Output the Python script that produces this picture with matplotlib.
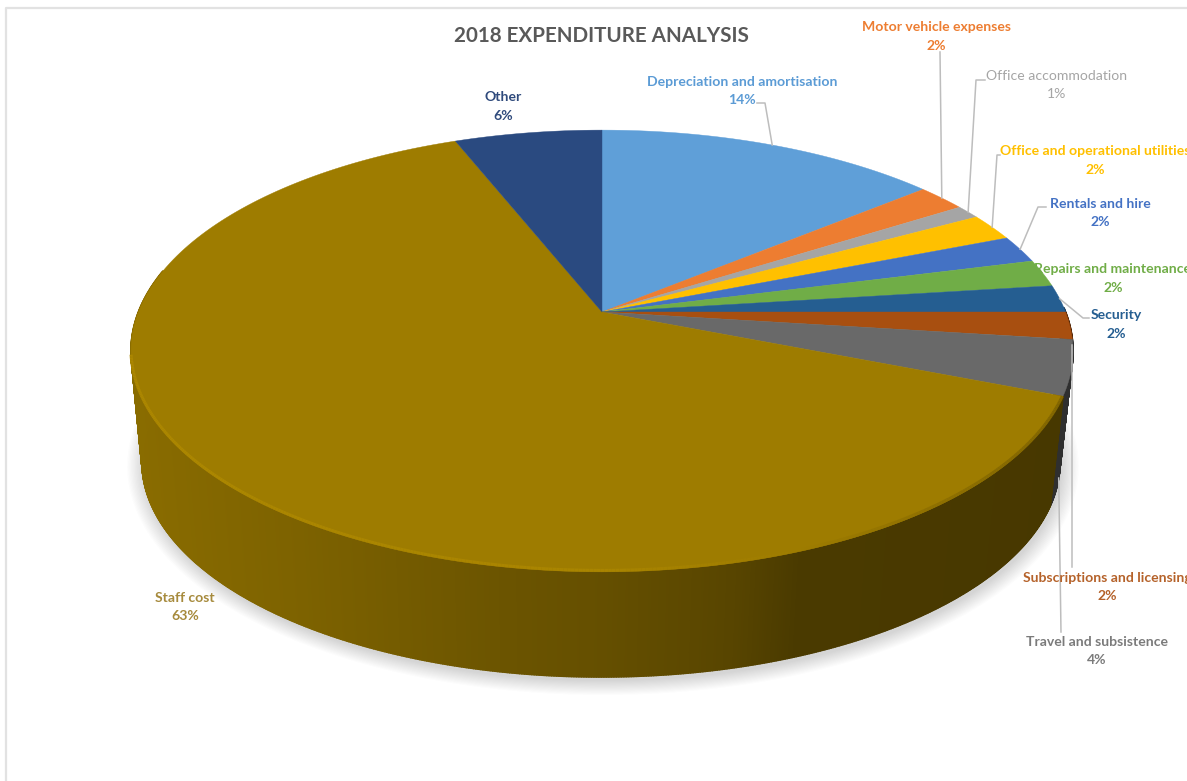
import numpy as np
import matplotlib
matplotlib.use('Agg')
import matplotlib.pyplot as plt
from matplotlib.collections import PolyCollection, LineCollection
from matplotlib.colors import to_rgb

categories = ['Depreciation and amortisation', 'Motor vehicle expenses', 'Office accommodation',
              'Office and operational utilities', 'Rentals and hire', 'Repairs and maintenance',
              'Security', 'Subscriptions and licensing', 'Travel and subsistence', 'Staff cost', 'Other']
values = [14, 2, 1, 2, 2, 2, 2, 2, 4, 63, 6]
colors = ['#5f9fd8', '#ed7d31', '#a5a5a5', '#ffc000', '#4472c4', '#70ad47',
          '#255e91', '#a84f10', '#696969', '#9e7c00', '#2a4a80']
label_colors = ['#5b9bd5', '#ed7d31', '#a5a5a5', '#ffc000', '#4472c4', '#70ad47',
                '#255e91', '#b5622a', '#7b7b7b', '#a68a3c', '#2f4a7c']

# label centre (x, y of the first line) in pixels
label_pos = [(742, 82), (936, 27), (1057, 76), (1095, 151), (1100, 204), (1113, 269),
             (1116, 315), (1107, 578), (1097, 642), (185, 598), (503, 97)]
# leader line bends after leaving the slice, None where there is no leader
leaders = [[(765, 103), (757, 103)], [(940, 52)], [(976, 80), (985, 80)], [(997, 155), (1000, 155)],
           [(1038, 207), (1046, 207)], None, [(1083, 318), (1089, 318)], [(1072, 345), (1072, 567)],
           [(1061, 632)], None, None]

# perspective of the disc
k = 0.1765
top_plane = (602, 312, 463.6, 214)
bottom_plane = (601, 423.8, 451.8, 208.5)
# side wall shading against screen x
shade_x = [130, 300, 500, 600, 700, 740, 800, 1072]
shade_f = [0.87, 0.79, 0.68, 0.64, 0.58, 0.55, 0.47, 0.45]


def project(t, plane):
    cx, cy, a, h = plane
    w = 1 + k * np.sin(t)
    return np.column_stack([cx + a * np.cos(t) / w, cy - h * np.sin(t) / w])


def frac_to_angle(f):
    return np.pi / 2 - 2 * np.pi * f


fig = plt.figure(figsize=(11.87, 7.81), dpi=100)
ax = fig.add_axes([0, 0, 1, 1])
ax.set_xlim(0, 1187)
ax.set_ylim(781, 0)
ax.axis('off')

# frame
ax.plot([6, 6, 1187], [781, 8, 8], color='#e2e2e2', lw=1.6, zorder=1)

# soft shadow under the disc
circle = np.linspace(0, 2 * np.pi, 360)
base = project(circle, bottom_plane)
centre = np.array([bottom_plane[0], bottom_plane[1] + 30])
for i in range(14):
    grow = 1.0 + 0.0028 * i
    ax.fill((base[:, 0] - centre[0]) * grow + centre[0] + 2,
            (base[:, 1] - centre[1]) * (grow + 0.002 * i) + centre[1] + 4,
            color='#707070', alpha=0.02, lw=0, zorder=2)

fracs = np.array(values) / sum(values)
edges = np.concatenate([[0], np.cumsum(fracs)])

# side wall, strips run from the back of the right side around the front
for i in range(len(values)):
    t0, t1 = frac_to_angle(edges[i]), frac_to_angle(edges[i + 1])
    lo = max(t1, -np.pi - 0.2)
    hi = min(t0, 0.02)
    if hi <= lo:
        continue
    ts = np.linspace(hi, lo, max(2, int((hi - lo) * 220)))
    up = project(ts, top_plane)
    dn = project(ts, bottom_plane)
    quads = []
    cols = []
    rgb = np.array(to_rgb(colors[i]))
    for j in range(len(ts) - 1):
        quads.append([up[j], up[j + 1], dn[j + 1], dn[j]])
        f = np.interp((up[j, 0] + up[j + 1, 0]) / 2, shade_x, shade_f)
        cols.append(tuple(rgb * f))
    ax.add_collection(PolyCollection(quads, facecolors=cols, edgecolors=cols, linewidths=1.2, zorder=3))

# top face
for i in range(len(values)):
    ts = np.linspace(frac_to_angle(edges[i]), frac_to_angle(edges[i + 1]), 200)
    pts = np.vstack([[top_plane[0], top_plane[1]], project(ts, top_plane)])
    ax.fill(pts[:, 0], pts[:, 1], color=colors[i], lw=0.3, zorder=4)

# bevel highlight on the front rim of the big slice
i = categories.index('Staff cost')
ts = np.linspace(frac_to_angle(edges[i]), frac_to_angle(edges[i + 1]), 600)
ts = ts[(ts < -0.38) & (ts > -np.pi + 0.2)]
rim = project(ts, top_plane)
rim[:, 1] -= 1.5
segs = np.stack([rim[:-1], rim[1:]], axis=1)
rgb = np.array(to_rgb(colors[i]))
rim_cols = []
for p in rim[:-1]:
    g = np.interp(p[0], [130, 600, 800, 1072], [1.09, 1.07, 1.0, 0.8])
    rim_cols.append(tuple(np.clip(rgb * g, 0, 1)))
ax.add_collection(LineCollection(segs, colors=rim_cols, linewidths=2.2, zorder=5))

# leader lines start from the middle of their slice
for i in range(len(values)):
    if leaders[i] is None:
        continue
    mid = frac_to_angle((edges[i] + edges[i + 1]) / 2)
    plane = bottom_plane if categories[i].startswith('Travel') else top_plane
    start = project(np.array([mid]), plane)[0]
    path = [tuple(start)] + leaders[i]
    if categories[i].startswith('Subscriptions'):
        path = leaders[i]
    xs = [p[0] for p in path]
    ys = [p[1] for p in path]
    ax.plot(xs, ys, color='#bdbdbd', lw=1.1, zorder=6, solid_joinstyle='round')

# labels
for i, name in enumerate(categories):
    x, y = label_pos[i]
    weight = 'normal' if name == 'Office accommodation' else 'bold'
    ax.text(x, y, name, color=label_colors[i], family='Lato', weight=weight, fontsize=10.1,
            ha='center', va='center', zorder=7)
    ax.text(x, y + 18.5, str(values[i]) + '%', color=label_colors[i], family='Lato', weight=weight,
            fontsize=10.1, ha='center', va='center', zorder=7)

ax.text(601.5, 36, '2018 EXPENDITURE ANALYSIS', color='#595959', family='Lato', weight='bold',
        fontsize=14.9, ha='center', va='center', zorder=7)

fig.savefig('out.png', dpi=100, facecolor='white')
